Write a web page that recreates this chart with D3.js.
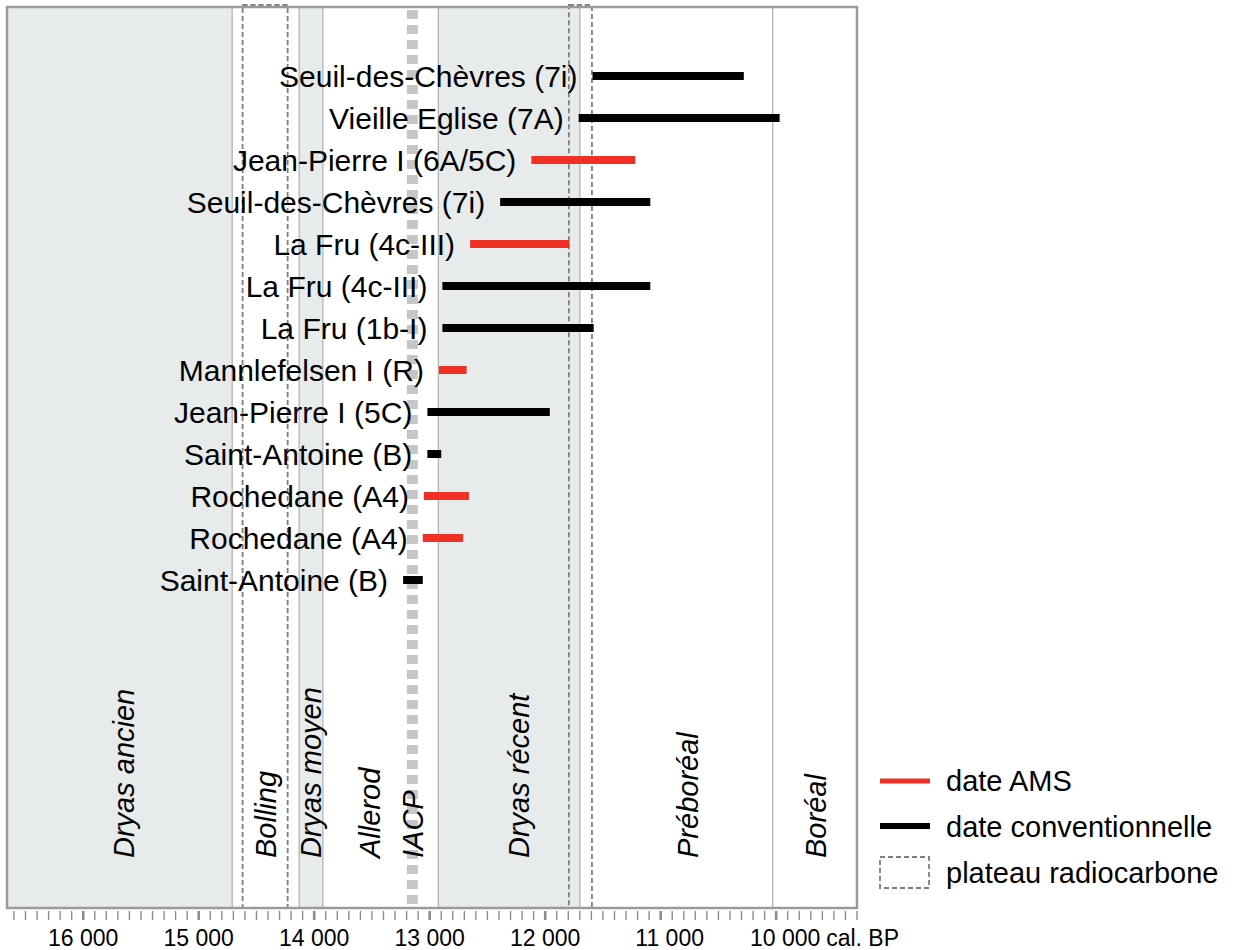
<!DOCTYPE html>
<html lang="fr">
  <head>
    <meta charset="UTF-8" />
    <title>Dates sur la chronologie tardiglaciaire</title>
    <style>
      body { margin: 0; background: #fff; }
      svg text { font-family: "Liberation Sans", Arial, Helvetica, sans-serif; fill: #000; }
    </style>
  </head>

  <body>

    <div id="chart"></div>

  <script src="https://cdn.jsdelivr.net/npm/d3@7"></script>
    <script>

// sites, from top to bottom
var sites = ["Seuil-des-Chèvres (7i)", "Vieille Eglise (7A)", "Jean-Pierre I (6A/5C)",
             "Seuil-des-Chèvres (7i)", "La Fru (4c-III)", "La Fru (4c-III)", "La Fru (1b-I)",
             "Mannlefelsen I (R)", "Jean-Pierre I (5C)", "Saint-Antoine (B)",
             "Rochedane (A4)", "Rochedane (A4)", "Saint-Antoine (B)"];
// calibrated range, cal. BP (older, younger)
var dateOld   = [11590, 11710, 12120, 12390, 12650, 12890, 12890, 12920, 13020, 13020, 13050, 13060, 13230];
var dateYoung = [10280,  9970, 11220, 11090, 11790, 11090, 11580, 12680, 11960, 12900, 12660, 12710, 13060];
var dateType  = ["conv", "conv", "AMS", "conv", "AMS", "conv", "conv", "AMS", "conv", "conv", "AMS", "AMS", "conv"];

// climatic periods
var periodNames = ["Dryas ancien", "Bolling", "Dryas moyen", "Allerod", "Dryas récent", "Préboréal", "Boréal"];
var periodStart = [16660, 14710, 14130, 13925, 12925, 11700, 10030];
var periodEnd   = [14710, 14130, 13925, 12925, 11700, 10030, 9300];
var periodCold  = [true, false, true, false, true, false, false];
var periodLabelAt = [15647, 14417, 14028, 13517, 12227, 10763, 9655];

var iacp = 13150;
var plateauStart = [14620, 11795];
var plateauEnd   = [14230, 11595];

var tickLabels = [16000, 15000, 14000, 13000, 12000, 11000, 10000];

var w = 1235;
var h = 950;
var frameTop = 7, frameBottom = 908, frameLeft = 7, frameRight = 857;

var svg = d3.select("#chart").append("svg")
            .attr("width", w)
            .attr("height", h);

var x = d3.scaleLinear().domain([16660, 9300]).range([frameLeft, frameRight]);
var y = d3.scalePoint().domain(d3.range(sites.length)).range([76, 580]);

var colour = { AMS: "#ee3124", conv: "#000000" };

// background bands
svg.selectAll("rect.period")
   .data(periodNames)
   .enter()
   .append("rect")
   .attr("class", "period")
   .attr("x", function(d, i) { return x(periodStart[i]); })
   .attr("y", frameTop)
   .attr("width", function(d, i) { return x(periodEnd[i]) - x(periodStart[i]); })
   .attr("height", frameBottom - frameTop)
   .attr("fill", function(d, i) { return periodCold[i] ? "#e8ebec" : "#ffffff"; });

// boundaries
svg.selectAll("line.limit")
   .data(periodStart.slice(1))
   .enter()
   .append("line")
   .attr("class", "limit")
   .attr("x1", function(d) { return x(d); })
   .attr("x2", function(d) { return x(d); })
   .attr("y1", frameTop)
   .attr("y2", frameBottom)
   .attr("stroke", "#b4b4b4")
   .attr("stroke-width", 1.3);

// IACP
svg.append("line")
   .attr("x1", x(iacp)).attr("x2", x(iacp))
   .attr("y1", frameTop + 3).attr("y2", frameBottom)
   .attr("stroke", "#c6c6c6")
   .attr("stroke-width", 11)
   .attr("stroke-dasharray", "9,6");

// plateaux radiocarbone
svg.selectAll("rect.plateau")
   .data(plateauStart)
   .enter()
   .append("rect")
   .attr("class", "plateau")
   .attr("x", function(d) { return x(d); })
   .attr("y", frameTop - 2)
   .attr("width", function(d, i) { return x(plateauEnd[i]) - x(d); })
   .attr("height", frameBottom - frameTop + 2)
   .attr("fill", "none")
   .attr("stroke", "#7d7d7d")
   .attr("stroke-width", 1.8)
   .attr("stroke-dasharray", "5,3");

// period labels
svg.selectAll("text.periodlabel")
   .data(periodNames)
   .enter()
   .append("text")
   .attr("class", "periodlabel")
   .attr("transform", function(d, i) { return "translate(" + x(periodLabelAt[i]) + ",858) rotate(-90)"; })
   .attr("dy", "0.35em")
   .style("font-size", "29px")
   .style("font-style", "italic")
   .text(function(d) { return d; });

svg.append("text")
   .attr("transform", "translate(" + x(iacp) + ",858) rotate(-90)")
   .attr("dy", "0.35em")
   .style("font-size", "29px")
   .style("font-style", "italic")
   .text("IACP");

// frame
svg.append("rect")
   .attr("x", frameLeft).attr("y", frameTop)
   .attr("width", frameRight - frameLeft).attr("height", frameBottom - frameTop)
   .attr("fill", "none")
   .attr("stroke", "#9a9a9a")
   .attr("stroke-width", 2.5);

// dates
svg.selectAll("line.date")
   .data(sites)
   .enter()
   .append("line")
   .attr("class", "date")
   .attr("x1", function(d, i) { return x(dateOld[i]); })
   .attr("x2", function(d, i) { return x(dateYoung[i]); })
   .attr("y1", function(d, i) { return y(i); })
   .attr("y2", function(d, i) { return y(i); })
   .attr("stroke", function(d, i) { return colour[dateType[i]]; })
   .attr("stroke-width", 8);

svg.selectAll("text.site")
   .data(sites)
   .enter()
   .append("text")
   .attr("class", "site")
   .attr("x", function(d, i) { return x(dateOld[i]) - 15; })
   .attr("y", function(d, i) { return y(i); })
   .attr("dy", "0.36em")
   .attr("text-anchor", "end")
   .style("font-size", "30px")
   .text(function(d) { return d; });

// axis: 100-year ticks, thicker every 1000
var axis = svg.append("g").attr("transform", "translate(0," + (frameBottom + 3) + ")");
var minor = d3.range(16600, 9299, -100);
axis.selectAll("line")
    .data(minor)
    .enter()
    .append("line")
    .attr("x1", function(d) { return x(d); })
    .attr("x2", function(d) { return x(d); })
    .attr("y1", 0)
    .attr("y2", 9)
    .attr("stroke", "#8c8c8c")
    .attr("stroke-width", function(d) { return d % 1000 == 0 ? 2.6 : 1.4; });

var fmt = function(d) { return d3.format(",")(d).replace(",", " "); };
axis.selectAll("text")
    .data(tickLabels)
    .enter()
    .append("text")
    .attr("x", function(d) { return x(d); })
    .attr("dx", function(d) { return d < 12000 ? 9 : 0; })
    .attr("y", 35)
    .attr("text-anchor", "middle")
    .style("font-size", "23px")
    .text(function(d) { return fmt(d); });

axis.append("text")
    .attr("x", x(10000) + 50)
    .attr("y", 35)
    .style("font-size", "23px")
    .text("cal. BP");

// legend
var legend = svg.append("g").attr("transform", "translate(880,781)");
legend.append("line")
      .attr("x1", 0).attr("x2", 50).attr("y1", 0).attr("y2", 0)
      .attr("stroke", colour.AMS).attr("stroke-width", 5);
legend.append("line")
      .attr("x1", 0).attr("x2", 50).attr("y1", 45).attr("y2", 45)
      .attr("stroke", colour.conv).attr("stroke-width", 6);
legend.append("rect")
      .attr("x", 0).attr("y", 76).attr("width", 49).attr("height", 31)
      .attr("fill", "none").attr("stroke", "#7d7d7d")
      .attr("stroke-width", 1.8).attr("stroke-dasharray", "5,3");

legend.selectAll("text")
      .data(["date AMS", "date conventionnelle", "plateau radiocarbone"])
      .enter()
      .append("text")
      .attr("x", 66)
      .attr("y", function(d, i) { return i * 46; })
      .attr("dy", "0.36em")
      .style("font-size", "29px")
      .text(function(d) { return d; });

</script>

  </body>
</html>
